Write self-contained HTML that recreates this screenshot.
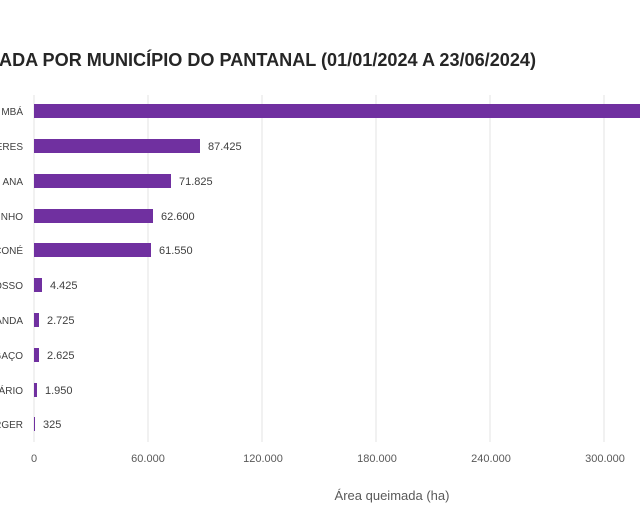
<!DOCTYPE html>
<html><head><meta charset="utf-8"><style>
body{margin:0;width:640px;height:522px;background:#fff;overflow:hidden;font-family:"Liberation Sans",sans-serif;}
</style></head><body>
<svg width="640" height="522" xmlns="http://www.w3.org/2000/svg" font-family="Liberation Sans, sans-serif">
<text x="-1" y="66" font-size="18" fill="#262626" font-weight="600" textLength="537" lengthAdjust="spacingAndGlyphs">ADA POR MUNICÍPIO DO PANTANAL (01/01/2024 A 23/06/2024)</text>
<g stroke="#e3e3e3" stroke-width="1">
<line x1="34" y1="95" x2="34" y2="442"/><line x1="148" y1="95" x2="148" y2="442"/><line x1="262" y1="95" x2="262" y2="442"/><line x1="376" y1="95" x2="376" y2="442"/><line x1="490" y1="95" x2="490" y2="442"/><line x1="604" y1="95" x2="604" y2="442"/>
</g>
<g fill="#7030a0">
<rect x="34" y="104" width="606" height="14"/>
<rect x="34" y="139" width="166" height="14"/>
<rect x="34" y="174" width="137" height="14"/>
<rect x="34" y="209" width="119" height="14"/>
<rect x="34" y="243" width="117" height="14"/>
<rect x="34" y="278" width="8" height="14"/>
<rect x="34" y="313" width="5" height="14"/>
<rect x="34" y="348" width="5" height="14"/>
<rect x="34" y="383" width="3" height="14"/>
<rect x="34" y="417" width="1" height="14"/>
</g>
<g font-size="10" fill="#404040" text-anchor="end">
<text x="23" y="115">MBÁ</text><text x="23" y="150">ERES</text><text x="23" y="185">ANA</text><text x="23" y="220">NHO</text><text x="23" y="254">CONÉ</text><text x="23" y="289">OSSO</text><text x="23" y="324">ANDA</text><text x="23" y="359">GAÇO</text><text x="23" y="394">ÁRIO</text><text x="23" y="428">RGER</text>
</g>
<g font-size="11" fill="#404040">
<text x="208" y="150">87.425</text><text x="179" y="185">71.825</text><text x="161" y="220">62.600</text><text x="159" y="254">61.550</text><text x="50" y="289">4.425</text><text x="47" y="324">2.725</text><text x="47" y="359">2.625</text><text x="45" y="394">1.950</text><text x="43" y="428">325</text>
</g>
<g font-size="11" fill="#595959" text-anchor="middle">
<text x="34" y="462">0</text><text x="148" y="462">60.000</text><text x="263" y="462">120.000</text><text x="377" y="462">180.000</text><text x="491" y="462">240.000</text><text x="605" y="462">300.000</text>
</g>
<text x="392" y="500" font-size="13" fill="#595959" text-anchor="middle">Área queimada (ha)</text>
</svg>
</body></html>
